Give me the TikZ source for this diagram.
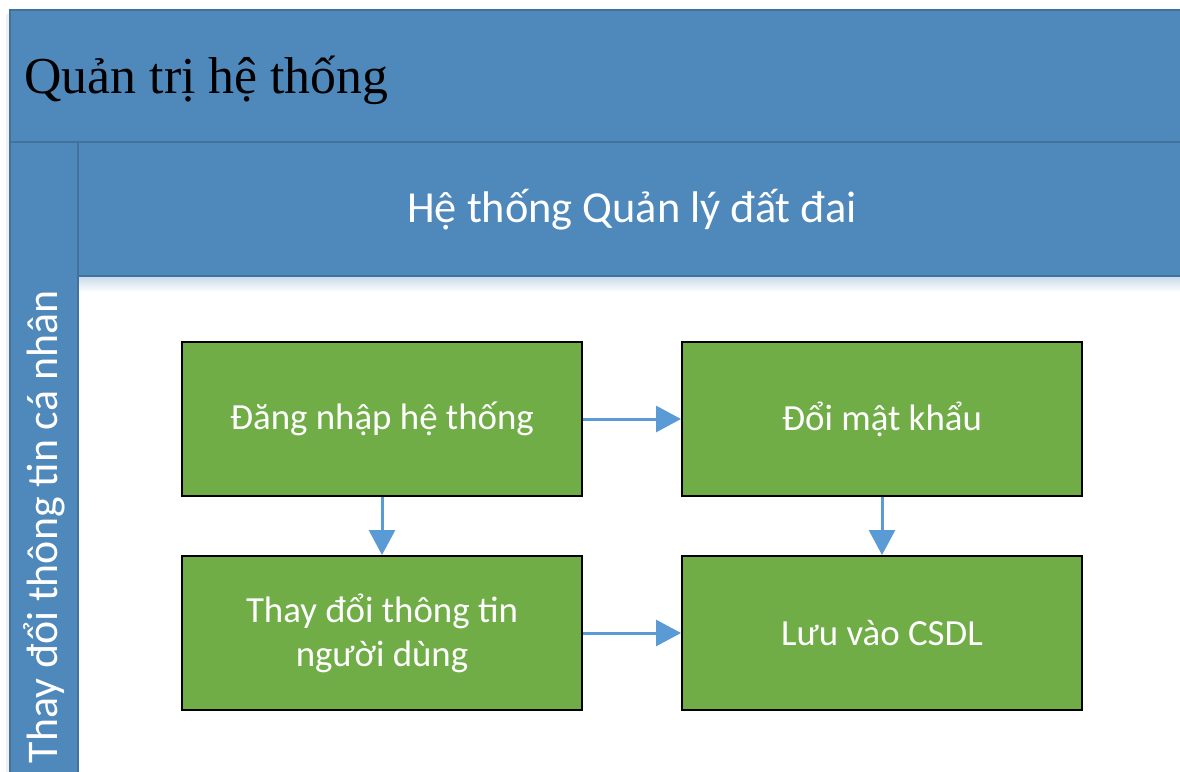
\documentclass[tikz,border=0pt]{standalone}
\usepackage{fontspec}
\setmainfont{Carlito}
\newfontfamily\titlefont{Liberation Serif}
\usetikzlibrary{arrows.meta,positioning}
\definecolor{lanblue}{HTML}{4F88BB}
\definecolor{lanedge}{HTML}{41719C}
\definecolor{stepgreen}{HTML}{70AD47}
\definecolor{flowblue}{HTML}{5B9BD5}

\begin{document}
\begin{tikzpicture}[x=1bp,y=-1bp,
  stepbox/.style={draw=black,line width=2bp,fill=stepgreen,text=white,
    minimum width=400bp,minimum height=154bp,align=center,
    font=\fontsize{37}{44}\selectfont},
  flow/.style={flowblue,line width=3bp,-{Triangle[length=25bp,width=26bp]}},
  band/.style={fill=lanblue,draw=lanedge,line width=2bp}]
  \useasboundingbox (0,0) rectangle (1180,772);
  \clip (0,0) rectangle (1180,772);
  % pool and lanes
  \fill[black!6] (6,14) rectangle (1190,790);
  \filldraw[band] (10,10) rectangle (1200,142);
  \filldraw[band] (10,142) rectangle (78,790);
  \filldraw[band] (78,142) rectangle (1200,276);
  \fill[white] (79,277) rectangle (1200,790);
  \shade[top color=lanblue!30,bottom color=white] (79,277) rectangle (1200,292);
  \node[anchor=west,font=\titlefont\fontsize{52}{62}\selectfont] (pool) at (21,80) {Quản trị hệ thống};
  \node[text=white,font=\fontsize{44.5}{52}\selectfont] (system) at (632,210) {Hệ thống Quản lý đất đai};
  \node[text=white,rotate=90,font=\fontsize{44}{52}\selectfont] (lane) at (44,527) {Thay đổi thông tin cá nhân};
  % steps
  \node[stepbox] (login) at (382,419) {Đăng nhập hệ thống};
  \node[stepbox,right=98bp of login] (passwd) {Đổi mật khẩu};
  \node[stepbox,below=58bp of login] (profile) {Thay đổi thông tin\\người dùng};
  \node[stepbox,right=98bp of profile] (save) {Lưu vào CSDL};
  % flows
  \draw[flow] (login) -- (passwd);
  \draw[flow] (login) -- (profile);
  \draw[flow] (passwd) -- (save);
  \draw[flow] (profile) -- (save);
\end{tikzpicture}
\end{document}
